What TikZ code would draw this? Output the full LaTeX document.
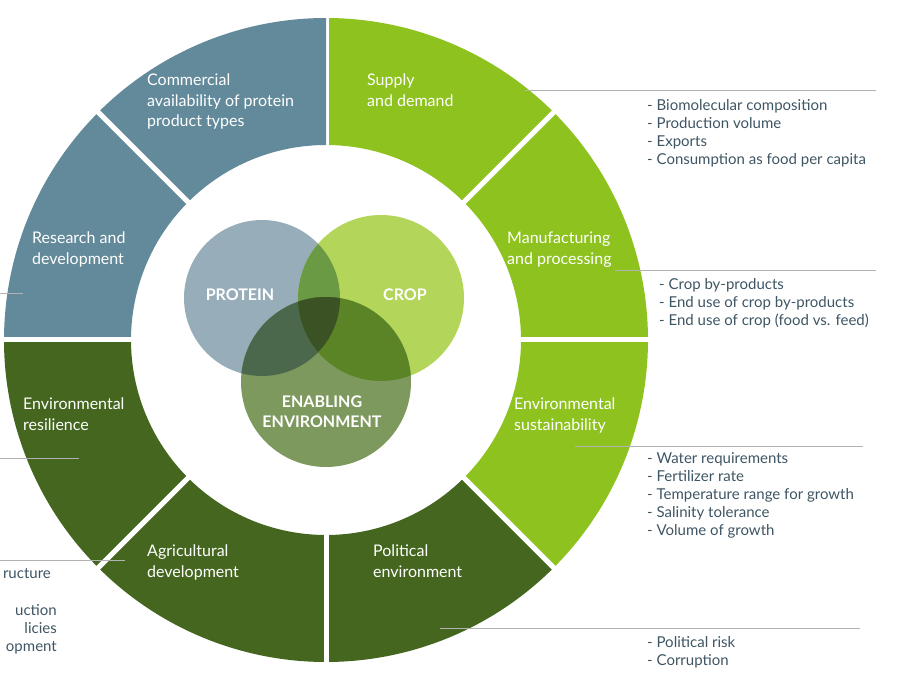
\documentclass[tikz,border=0pt]{standalone}
\usepackage{fontspec}
\setmainfont{Lato}
\usetikzlibrary{calc}
\definecolor{cblue}{HTML}{638A9B}
\definecolor{cgreen}{HTML}{8DC21F}
\definecolor{cdark}{HTML}{44661F}
\definecolor{ctext}{HTML}{3E5563}
\definecolor{vprot}{HTML}{97AEBA}
\definecolor{vcrop}{HTML}{B3D65A}
\definecolor{venv}{HTML}{7E995D}
\definecolor{vpc}{HTML}{6B9A45}
\definecolor{vpe}{HTML}{4C684C}
\definecolor{vce}{HTML}{5A8426}
\definecolor{vall}{HTML}{3A5224}
\begin{document}
\begin{tikzpicture}[x=1pt,y=-1pt,
  seg/.style={fill=#1},
  lab/.style={anchor=north west,inner sep=0pt,align=left,text=white,font=\fontsize{16}{20.5}\selectfont},
  lst/.style={anchor=north west,inner sep=0pt,align=left,text=ctext,font=\fontsize{15}{18}\selectfont},
  lead/.style={draw=gray!60,line width=0.6pt},
  vl/.style={text=white,font=\bfseries\fontsize{16}{20}\selectfont,align=center,inner sep=0pt}]
\useasboundingbox (0,0) rectangle (922,679);
\coordinate (c) at (326,340);
\def\R{322}\def\r{195}
\foreach \a/\col in {270/cgreen,315/cgreen,0/cgreen,45/cdark,90/cdark,135/cdark,180/cblue,225/cblue}{
  \pgfmathsetmacro{\b}{\a+45}
  \fill[\col] ($(c)+(\a:\R)$) arc[start angle=\a,end angle=\b,radius=\R] -- ($(c)+(\b:\r)$) arc[start angle=\b,end angle=\a,radius=\r] -- cycle;
  \draw[white,line width=5pt] ($(c)+(\a:\r-5)$) -- ($(c)+(\a:\R+5)$);
}
% Venn
\coordinate (vp) at (262,298);
\coordinate (vc) at (381,298);
\coordinate (ve) at (326,382);
\fill[vprot] (vp) circle[radius=78];
\fill[vcrop] (vc) circle[radius=83];
\fill[venv] (ve) circle[radius=85];
\begin{scope}\clip (vp) circle[radius=78]; \fill[vpc] (vc) circle[radius=83]; \fill[vpe] (ve) circle[radius=85];\end{scope}
\begin{scope}\clip (vc) circle[radius=83]; \fill[vce] (ve) circle[radius=85];
  \clip (vp) circle[radius=78]; \fill[vall] (ve) circle[radius=85];\end{scope}
\node[vl] (tp) at (240,295) {PROTEIN};
\node[vl] (tc) at (405,295) {CROP};
\node[vl] (te) at (322,412) {ENABLING\\ENVIRONMENT};
% segment labels
\node[lab] (l1) at (147,74) {Commercial\\availability of protein\\product types};
\node[lab] (l2) at (367,74) {Supply\\and demand};
\node[lab] (l3) at (507,232) {Manufacturing\\and processing};
\node[lab] (l4) at (514,398) {Environmental\\sustainability};
\node[lab] (l5) at (373,545) {Political\\environment};
\node[lab] (l6) at (147,545) {Agricultural\\development};
\node[lab] (l7) at (23,398) {Environmental\\resilience};
\node[lab] (l8) at (32,232) {Research and\\development};
% leader lines
\coordinate (a1) at (525,90); \coordinate (b1) at (876,90);
\coordinate (a2) at (615,270); \coordinate (b2) at (876,270);
\coordinate (a3) at (575,446); \coordinate (b3) at (863,446);
\coordinate (a4) at (440,628); \coordinate (b4) at (860,628);
\coordinate (a5) at (0,293); \coordinate (b5) at (23,293);
\coordinate (a6) at (0,458); \coordinate (b6) at (79,458);
\coordinate (a7) at (0,560); \coordinate (b7) at (125,560);
\foreach \i in {1,...,7}{\draw[lead] (a\i) -- (b\i);}
% lists
\node[lst] (s1) at (647,99) {- Biomolecular composition\\- Production volume\\- Exports\\- Consumption as food per capita};
\node[lst] (s2) at (659,278) {- Crop by-products\\- End use of crop by-products\\- End use of crop (food vs. feed)};
\node[lst] (s3) at (647,452) {- Water requirements\\- Fertilizer rate\\- Temperature range for growth\\- Salinity tolerance\\- Volume of growth};
\node[lst] (s4) at (647,636) {- Political risk\\- Corruption};
\node[lst,anchor=north east] (s5) at (51,568) {ructure};
\node[lst,anchor=north east,align=right] (s6) at (57,604) {uction\\licies\\opment};
\end{tikzpicture}
\end{document}
